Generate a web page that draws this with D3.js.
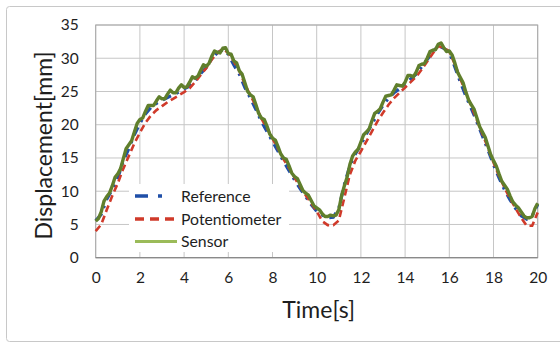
<!DOCTYPE html>
<html><head><meta charset="utf-8">
<script src="https://cdn.jsdelivr.net/npm/d3@7"></script>
<style>html,body{margin:0;padding:0;background:#fff;}svg{display:block;}</style>
</head><body>
<svg id="chart" width="560" height="343"></svg>
<script>
const time = [0,0.25,0.5,0.75,1,1.25,1.5,1.75,2,2.25,2.5,2.75,3,3.25,3.5,3.75,4,4.25,4.5,4.75,5,5.25,5.5,5.75,6,6.25,6.5,6.75,7,7.25,7.5,7.75,8,8.25,8.5,8.75,9,9.25,9.5,9.75,10,10.25,10.5,10.75,11,11.25,11.5,11.75,12,12.25,12.5,12.75,13,13.25,13.5,13.75,14,14.25,14.5,14.75,15,15.25,15.5,15.75,16,16.25,16.5,16.75,17,17.25,17.5,17.75,18,18.25,18.5,18.75,19,19.25,19.5,19.75,20];
const reference = [5.6,6.5,8.8,10.3,12.0,14.6,16.4,18.5,20.2,21.6,22.6,23.2,23.7,24.1,24.5,24.9,25.4,25.8,26.7,27.7,28.6,29.9,30.8,31.3,30.6,29.0,27.6,25.6,24.0,22.3,20.5,19.0,17.5,16.0,14.5,13.1,11.7,10.4,9.2,8.0,7.0,6.4,6.0,6.1,7.4,11.0,13.8,15.6,17.0,18.6,20.1,21.6,22.9,24.0,24.8,25.4,26.1,26.9,27.6,28.7,29.8,30.9,31.9,31.5,30.9,28.7,26.4,24.3,22.4,20.4,18.3,16.2,14.0,12.0,10.2,8.7,7.4,6.3,5.8,6.3,8.0];
const potentiometer = [4.0,5.0,7.2,9.3,11.2,13.4,15.3,17.2,18.8,20.3,21.4,22.2,22.8,23.4,23.9,24.4,24.9,25.5,26.4,27.5,28.5,29.8,30.8,31.4,30.8,29.5,28.1,26.1,24.4,22.8,20.9,19.5,17.9,16.4,14.8,13.5,12.0,10.7,9.4,8.2,7.0,5.5,4.9,4.9,5.6,9.0,12.5,14.6,16.0,17.5,19.0,20.5,21.8,23.0,24.0,24.8,25.6,26.4,27.2,28.3,29.5,30.7,31.8,31.6,31.0,29.1,26.9,24.8,22.8,20.7,18.6,16.5,14.3,12.3,10.5,8.9,7.4,6.0,4.8,4.8,6.8];
const sensorTime = [0,0.125,0.25,0.375,0.5,0.625,0.75,0.875,1,1.125,1.25,1.375,1.5,1.625,1.75,1.875,2,2.125,2.25,2.375,2.5,2.625,2.75,2.875,3,3.125,3.25,3.375,3.5,3.625,3.75,3.875,4,4.125,4.25,4.375,4.5,4.625,4.75,4.875,5,5.125,5.25,5.375,5.5,5.625,5.75,5.875,6,6.125,6.25,6.375,6.5,6.625,6.75,6.875,7,7.125,7.25,7.375,7.5,7.625,7.75,7.875,8,8.125,8.25,8.375,8.5,8.625,8.75,8.875,9,9.125,9.25,9.375,9.5,9.625,9.75,9.875,10,10.125,10.25,10.375,10.5,10.625,10.75,10.875,11,11.125,11.25,11.375,11.5,11.625,11.75,11.875,12,12.125,12.25,12.375,12.5,12.625,12.75,12.875,13,13.125,13.25,13.375,13.5,13.625,13.75,13.875,14,14.125,14.25,14.375,14.5,14.625,14.75,14.875,15,15.125,15.25,15.375,15.5,15.625,15.75,15.875,16,16.125,16.25,16.375,16.5,16.625,16.75,16.875,17,17.125,17.25,17.375,17.5,17.625,17.75,17.875,18,18.125,18.25,18.375,18.5,18.625,18.75,18.875,19,19.125,19.25,19.375,19.5,19.625,19.75,19.875,20];
const sensor = [5.5,5.9,6.9,8.5,9.2,9.7,10.8,12.1,12.6,13.4,
14.9,16.4,17.0,17.6,18.9,20.2,20.8,21.0,22.0,22.9,
22.9,22.9,23.6,24.2,23.9,23.9,24.6,25.2,24.8,24.8,
25.5,26.0,25.6,25.7,26.4,27.2,27.0,27.3,28.2,29.0,
28.8,29.2,30.3,31.1,30.9,30.8,31.5,31.6,30.7,30.6,
29.6,29.3,28.1,27.6,26.3,25.0,24.5,24.2,23.0,21.7,
21.0,20.8,19.8,18.6,18.0,17.7,16.7,15.6,15.0,14.8,
13.8,12.7,12.2,11.9,11.0,10.1,9.7,9.4,8.6,7.8,
7.5,7.2,6.6,6.2,6.2,6.4,6.3,6.4,7.2,9.3,
10.8,12.1,14.0,15.3,15.9,16.3,17.4,18.5,18.9,19.4,
20.6,21.7,22.0,22.4,23.4,24.3,24.4,24.5,25.2,26.0,
25.9,25.8,26.4,27.4,27.4,27.2,27.9,28.9,29.1,29.2,
30.0,31.0,31.2,31.3,32.1,32.3,31.6,31.0,31.1,30.5,
29.3,27.9,27.1,26.3,24.9,23.7,23.0,22.3,21.0,19.7,
18.9,18.1,16.8,15.5,14.6,13.8,12.6,11.5,10.9,10.3,
9.3,8.4,7.9,7.5,6.9,6.3,6.0,6.0,6.2,7.4,
8.2];
const xTicks = [0,2,4,6,8,10,12,14,16,18,20];
const yTicks = [0,5,10,15,20,25,30,35];
const seriesNames = ["Reference","Potentiometer","Sensor"];
const seriesColors = ["#1f4fa8","#d03a2a","#607f2c"];
const legendColors = ["#1f4fa8","#d03a2a","#9bbb59"];
const xTitle = "Time[s]";
const yTitle = "Displacement[mm]";

const svg = d3.select("#chart");
const font = "Lato, 'Liberation Sans', sans-serif";
const m = {left:95.7, right:537.7, top:25, bottom:257.7};

svg.append("rect").attr("x",6.5).attr("y",6.5).attr("width",566).attr("height",335)
  .attr("rx",3).attr("fill","#fff").attr("stroke","#c8c8c8").attr("stroke-width",1);

const x = d3.scaleLinear().domain([0,20]).range([m.left,m.right]);
const y = d3.scaleLinear().domain([0,35]).range([m.bottom,m.top]);

// grid
const g = svg.append("g");
g.selectAll("line.vg").data(xTicks).join("line").attr("class","vg")
  .attr("x1",d=>x(d)).attr("x2",d=>x(d)).attr("y1",m.top).attr("y2",m.bottom)
  .attr("stroke","#c6c6c6").attr("stroke-width",1);
g.selectAll("line.hg").data(yTicks).join("line").attr("class","hg")
  .attr("y1",d=>y(d)).attr("y2",d=>y(d)).attr("x1",m.left).attr("x2",m.right)
  .attr("stroke","#c6c6c6").attr("stroke-width",1);
svg.append("rect").attr("x",m.left).attr("y",m.top).attr("width",m.right-m.left).attr("height",m.bottom-m.top)
  .attr("fill","none").attr("stroke","#a8a8a8").attr("stroke-width",1);
svg.append("line").attr("x1",m.left).attr("x2",m.right).attr("y1",m.bottom).attr("y2",m.bottom)
  .attr("stroke","#8a8a8a").attr("stroke-width",1.3);

// axes (labels only)
const xAxis = d3.axisBottom(x).tickValues(xTicks).tickSize(0).tickPadding(14);
const ya = d3.axisLeft(y).tickValues(yTicks).tickSize(0).tickPadding(17);
const gx = svg.append("g").attr("transform",`translate(0,${m.bottom})`).call(xAxis);
const gy = svg.append("g").attr("transform",`translate(${m.left},0)`).call(ya);
[gx,gy].forEach(a=>{a.select(".domain").remove();
  a.selectAll("text").attr("font-family",font).attr("font-size",15.5).attr("fill","#1e1e1e");});

// lines
const line = d3.line().x((d,i)=>x(time[i])).y(d=>y(d));
const sLine = d3.line().x((d,i)=>x(sensorTime[i])).y(d=>y(d));
svg.append("path").datum(reference).attr("d",line).attr("fill","none")
  .attr("stroke",seriesColors[0]).attr("stroke-width",3.2).attr("stroke-dasharray","9,6,2.5,6");
svg.append("path").datum(potentiometer).attr("d",line).attr("fill","none")
  .attr("stroke",seriesColors[1]).attr("stroke-width",2.6).attr("stroke-dasharray","7,4");
svg.append("path").datum(sensor).attr("d",sLine).attr("fill","none")
  .attr("stroke",seriesColors[2]).attr("stroke-width",3.4).attr("stroke-linejoin","round");

// legend
const lg = svg.append("g");
lg.append("rect").attr("x",129).attr("y",184).attr("width",160).attr("height",68).attr("fill","#fff");
const ly = [196,219,241.5];
seriesNames.forEach((n,i)=>{
  const l = lg.append("line").attr("x1",135).attr("x2",177).attr("y1",ly[i]).attr("y2",ly[i])
    .attr("stroke",legendColors[i]).attr("stroke-width",i==2?3:3.4);
  if(i==0) l.attr("stroke-dasharray","13,10,4,20");
  if(i==1) l.attr("stroke-dasharray","9,6");
  lg.append("text").attr("x",181).attr("y",ly[i]).attr("dy","0.35em").text(n)
    .attr("font-family",font).attr("font-size",15.8).attr("fill","#1e1e1e");
});

// titles
svg.append("text").attr("x",(m.left+m.right)/2+2).attr("y",318).attr("text-anchor","middle")
  .attr("font-family",font).attr("font-size",23).attr("fill","#1e1e1e").text(xTitle);
svg.append("text").attr("transform","translate(52,145.5) rotate(-90)").attr("text-anchor","middle")
  .attr("font-family",font).attr("font-size",23).attr("fill","#1e1e1e").text(yTitle);
</script>
</body></html>
